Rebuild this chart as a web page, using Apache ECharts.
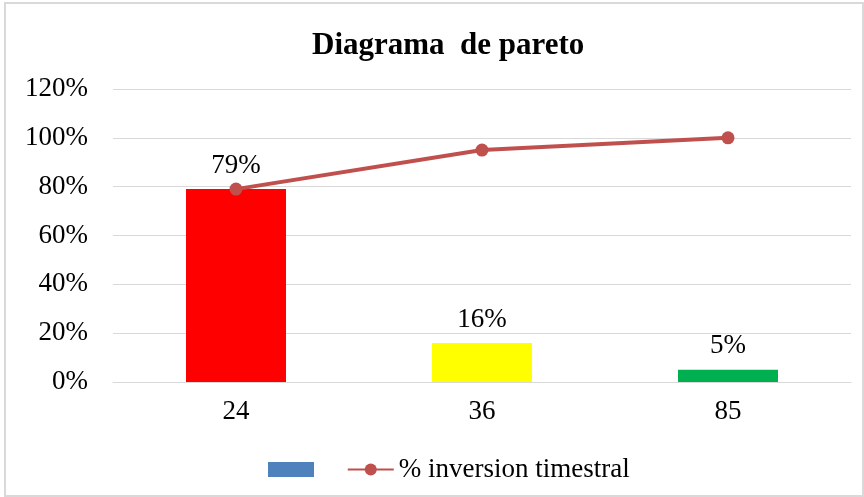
<!DOCTYPE html>
<html>
<head>
<meta charset="utf-8">
<script src="https://cdn.jsdelivr.net/npm/echarts@6/dist/echarts.min.js"></script>
<style>
  html, body { margin: 0; padding: 0; background: #fff; }
  #wrap { position: absolute; left: 4px; top: 2px; width: 856px; height: 491px; border: 2px solid #d9d9d9; }
  #chart { width: 864px; height: 497px; position: absolute; left: -6px; top: -4px; }
</style>
</head>
<body>
<div id="wrap"><div id="chart"></div></div>
<script>
const categories = ["24", "36", "85"];
const barValues = [79, 16, 5];
const barColors = ["#FF0000", "#FFFF00", "#00B050"];
const cumValues = [79, 95, 100];
const lineName = "% inversion timestral";

const chart = echarts.init(document.getElementById("chart"));
const serif = "'Liberation Serif', 'Times New Roman', serif";

const option = {
  animation: false,
  title: {
    text: "Diagrama  de pareto",
    left: 307,
    top: 25,
    textStyle: { fontFamily: serif, fontSize: 31, fontWeight: "bold", color: "#000" },
  },
  grid: { left: 113, right: 13, top: 89, bottom: 115 },
  legend: {
    left: 263,
    top: 451,
    itemGap: 21,
    itemWidth: 46,
    itemHeight: 15,
    textStyle: { fontFamily: serif, fontSize: 27, color: "#000" },
    data: [
      { name: " ", icon: "rect", itemStyle: { color: "#4F81BD" } },
      { name: lineName },
    ],
  },
  xAxis: {
    type: "category",
    data: categories,
    axisTick: { show: false },
    axisLine: { lineStyle: { color: "#d9d9d9", width: 1 } },
    axisLabel: { fontFamily: serif, fontSize: 27, color: "#000", margin: 16 },
  },
  yAxis: {
    type: "value",
    min: 0,
    max: 120,
    interval: 20,
    axisLabel: { fontFamily: serif, fontSize: 27, color: "#000", margin: 25, formatter: "{value}%" },
    splitLine: { lineStyle: { color: "#d9d9d9" } },
    axisLine: { show: false },
    axisTick: { show: false },
  },
  series: [
    {
      name: " ",
      type: "bar",
      barWidth: 100,
      itemStyle: { color: "#4F81BD" },
      data: barValues.map((v, i) => ({ value: v, itemStyle: { color: barColors[i] } })),
      label: {
        show: true,
        position: "top",
        distance: 10,
        formatter: "{c}%",
        fontFamily: serif,
        fontSize: 27,
        color: "#000",
      },
    },
    {
      name: lineName,
      type: "line",
      data: cumValues,
      symbol: "circle",
      symbolSize: 13,
      lineStyle: { color: "#C0504D", width: 4 },
      itemStyle: { color: "#C0504D" },
      z: 5,
    },
  ],
};
chart.setOption(option);
</script>
</body>
</html>
